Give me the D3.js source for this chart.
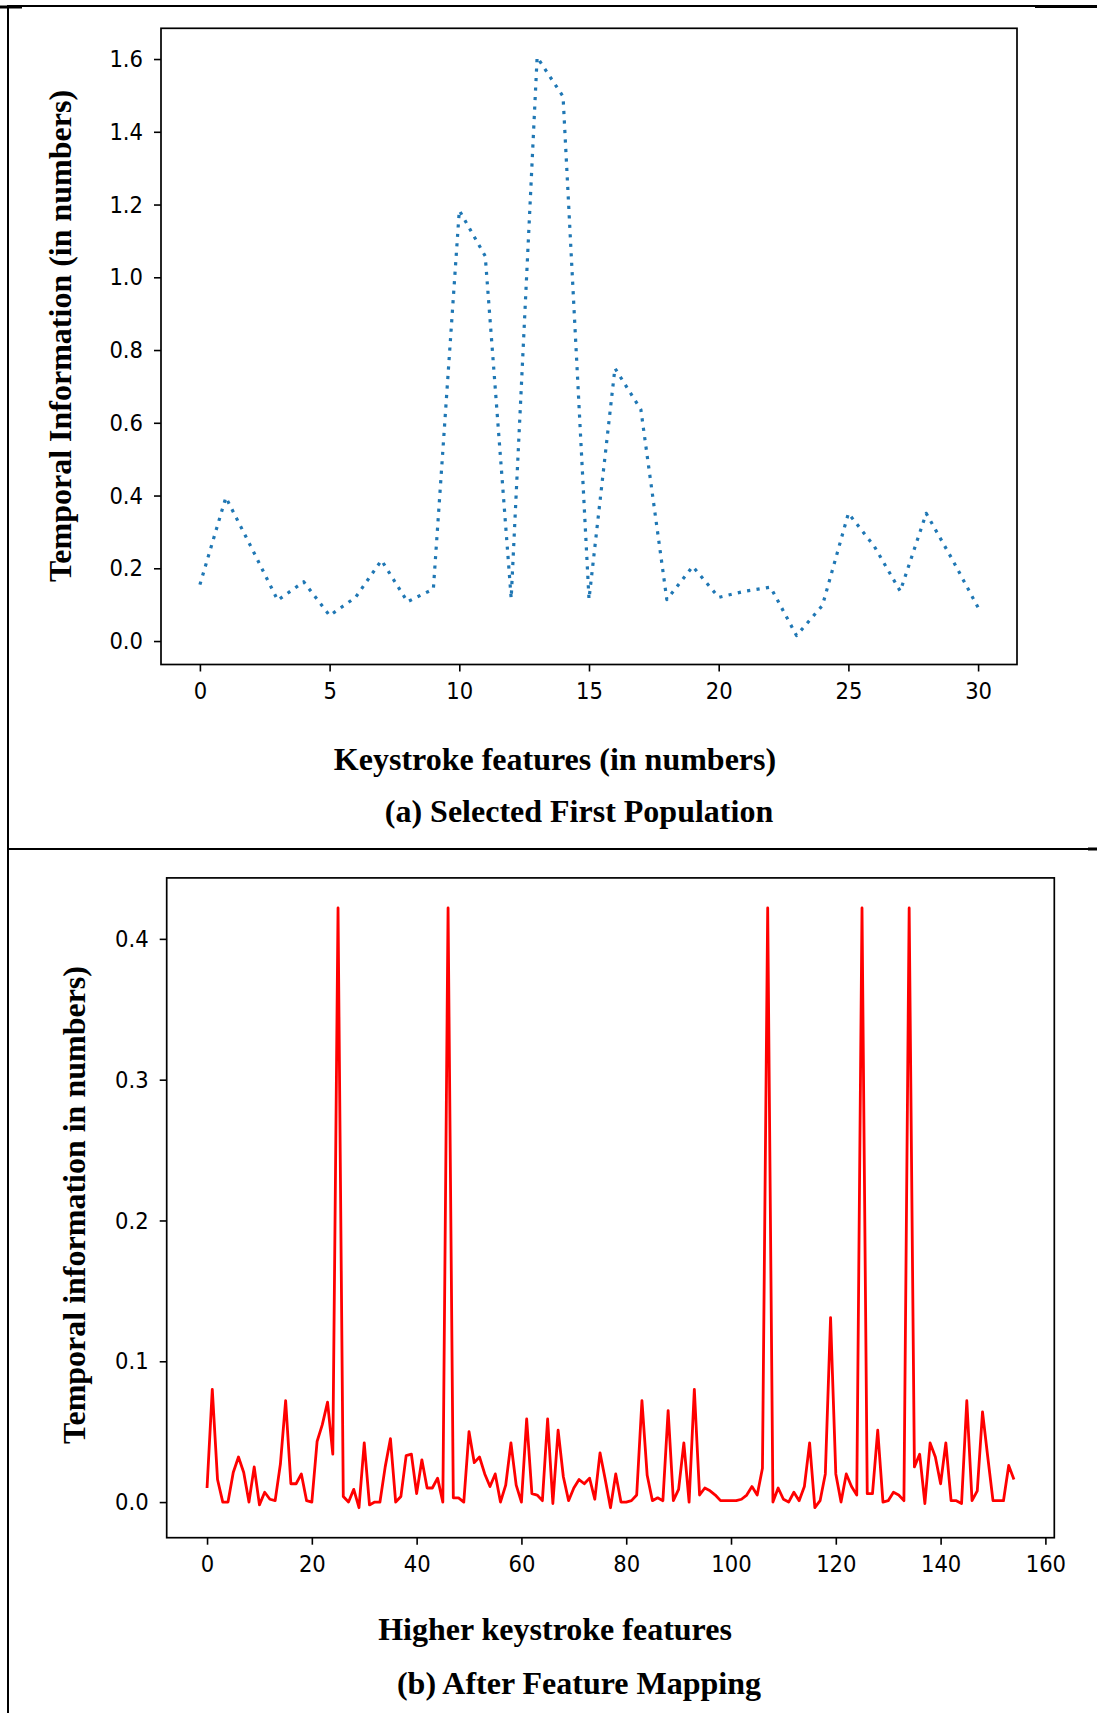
<!DOCTYPE html>
<html>
<head>
<meta charset="utf-8">
<script src="https://cdn.jsdelivr.net/npm/d3@7"></script>
<style>
    body { margin: 0; background: #fff; }
    svg { display: block; }
    .tick text { font-family: "DejaVu Sans Condensed", "DejaVu Sans", sans-serif; font-size: 23.5px; fill: #000; }
    .tick line { stroke: #000; stroke-width: 1.6; }
    .title { font-family: "Liberation Serif", "Times New Roman", serif; font-weight: bold; font-size: 32px; fill: #000; }
    .frame { fill: none; stroke: #000; stroke-width: 1.7; }
    .rule { stroke: #000; }
</style>
</head>
<body>
<script>
// (a) selected first population, one value per keystroke feature
const firstPopValues = [0.155, 0.395, 0.255, 0.112, 0.163, 0.07, 0.12, 0.222, 0.108, 0.143,
    1.184, 1.058, 0.117, 1.605, 1.497, 0.115, 0.750, 0.636, 0.114, 0.205,
    0.12, 0.137, 0.148, 0.015, 0.098, 0.351, 0.26, 0.137, 0.351, 0.225, 0.092];
const firstPopXTicks = [0, 5, 10, 15, 20, 25, 30];
const firstPopYTicks = [0.0, 0.2, 0.4, 0.6, 0.8, 1.0, 1.2, 1.4, 1.6];

// (b) after feature mapping, higher keystroke features
const mappedValues = [0.010, 0.080, 0.016, 0.000, 0.000, 0.021, 0.032, 0.021, 0.000, 0.025,
    -0.002, 0.007, 0.002, 0.001, 0.027, 0.072, 0.013, 0.013, 0.020, 0.001,
    0.000, 0.043, 0.055, 0.071, 0.034, 0.422, 0.004, 0.000, 0.009, -0.004,
    0.042, -0.002, 0.000, 0.000, 0.025, 0.045, 0.000, 0.004, 0.033, 0.034,
    0.006, 0.030, 0.010, 0.010, 0.017, 0.000, 0.422, 0.003, 0.003, 0.000,
    0.050, 0.028, 0.032, 0.020, 0.011, 0.020, 0.000, 0.012, 0.042, 0.012,
    0.000, 0.059, 0.006, 0.005, 0.001, 0.059, -0.001, 0.051, 0.018, 0.001,
    0.010, 0.016, 0.013, 0.017, 0.002, 0.035, 0.016, -0.004, 0.020, 0.000,
    0.000, 0.001, 0.005, 0.072, 0.019, 0.001, 0.003, 0.001, 0.065, 0.001,
    0.009, 0.042, 0.000, 0.080, 0.005, 0.010, 0.008, 0.005, 0.001, 0.001,
    0.001, 0.001, 0.002, 0.005, 0.011, 0.005, 0.024, 0.422, 0.000, 0.010,
    0.002, 0.000, 0.007, 0.001, 0.011, 0.042, -0.004, 0.001, 0.020, 0.131,
    0.020, 0.000, 0.020, 0.011, 0.005, 0.422, 0.006, 0.006, 0.051, 0.000,
    0.001, 0.007, 0.005, 0.001, 0.422, 0.025, 0.034, -0.001, 0.042, 0.032,
    0.013, 0.042, 0.001, 0.001, -0.001, 0.072, 0.001, 0.008, 0.064, 0.032,
    0.001, 0.001, 0.001, 0.026, 0.016];
const mappedXTicks = [0, 20, 40, 60, 80, 100, 120, 140, 160];
const mappedYTicks = [0.0, 0.1, 0.2, 0.3, 0.4];

const W = 1097, H = 1713;

const svg = d3.select("body").append("svg")
    .attr("width", W)
    .attr("height", H);

svg.append("rect").attr("width", W).attr("height", H).attr("fill", "#fff");

// padded extent, the way matplotlib leaves 5% either side
function padded(ext) {
    let m = (ext[1] - ext[0]) * 0.05;
    return [ext[0] - m, ext[1] + m];
}

class Panel {
    constructor(parent, box, opts) {
        this.box = box;
        this.opts = opts;
        this.g = parent.append("g");

        let xs = opts.values.map((d, i) => i);
        this.x = d3.scaleLinear().domain(padded(d3.extent(xs))).range([box.left, box.right]);
        this.y = d3.scaleLinear().domain(padded(d3.extent(opts.values))).range([box.bottom, box.top]);
    }

    draw() {
        let obj = this;
        let b = this.box;

        let line = d3.line()
            .x((d, i) => obj.x(i))
            .y(d => obj.y(d));

        let path = this.g.append("path")
            .datum(this.opts.values)
            .attr("d", line)
            .attr("fill", "none")
            .attr("stroke", this.opts.color)
            .attr("stroke-width", this.opts.width)
            .attr("stroke-linejoin", "round");
        if (this.opts.dash) path.attr("stroke-dasharray", this.opts.dash);

        this.g.append("g")
            .attr("transform", "translate(0," + b.bottom + ")")
            .call(d3.axisBottom(this.x).tickValues(this.opts.xTicks).tickFormat(d3.format("d"))
                .tickSizeInner(7).tickSizeOuter(0).tickPadding(11))
            .call(g => g.select(".domain").remove());

        this.g.append("g")
            .attr("transform", "translate(" + b.left + ",0)")
            .call(d3.axisLeft(this.y).tickValues(this.opts.yTicks).tickFormat(d3.format(".1f"))
                .tickSizeInner(7).tickSizeOuter(0).tickPadding(11))
            .call(g => g.select(".domain").remove());

        this.g.selectAll(".tick text").attr("font-family", null).attr("font-size", null);

        this.g.append("rect")
            .attr("class", "frame")
            .attr("x", b.left).attr("y", b.top)
            .attr("width", b.right - b.left)
            .attr("height", b.bottom - b.top);

        this.g.append("text")
            .attr("class", "title")
            .attr("transform", "translate(" + this.opts.yLabelX + "," + this.opts.yLabelY + ") rotate(-90)")
            .attr("text-anchor", "middle")
            .text(this.opts.yLabel);

        this.g.append("text")
            .attr("class", "title")
            .attr("x", 555).attr("y", this.opts.xLabelY)
            .attr("text-anchor", "middle")
            .text(this.opts.xLabel);

        this.g.append("text")
            .attr("class", "title")
            .attr("x", 579).attr("y", this.opts.captionY)
            .attr("text-anchor", "middle")
            .text(this.opts.caption);
    }
}

new Panel(svg, {left: 161, right: 1017, top: 28.3, bottom: 664.5}, {
    values: firstPopValues,
    xTicks: firstPopXTicks,
    yTicks: firstPopYTicks,
    color: "#1f77b4",
    width: 3.2,
    dash: "3.2,6.3",
    yLabel: "Temporal Information (in numbers)",
    yLabelX: 71, yLabelY: 336,
    xLabel: "Keystroke features (in numbers)",
    xLabelY: 770,
    caption: "(a) Selected First Population",
    captionY: 822
}).draw();

new Panel(svg, {left: 166.7, right: 1054.3, top: 877.9, bottom: 1537.7}, {
    values: mappedValues,
    xTicks: mappedXTicks,
    yTicks: mappedYTicks,
    color: "#ff0000",
    width: 2.8,
    yLabel: "Temporal information in numbers)",
    yLabelX: 85, yLabelY: 1205,
    xLabel: "Higher keystroke features",
    xLabelY: 1640,
    caption: "(b) After Feature Mapping",
    captionY: 1694
}).draw();

// table rules around the two panels
let rules = svg.append("g").attr("class", "rules");
rules.append("line").attr("class", "rule").attr("x1", 0).attr("x2", 22).attr("y1", 7).attr("y2", 7).attr("stroke-width", 3);
rules.append("line").attr("class", "rule").attr("x1", 8).attr("x2", 1035).attr("y1", 6).attr("y2", 6).attr("stroke-width", 2);
rules.append("line").attr("class", "rule").attr("x1", 1035).attr("x2", W).attr("y1", 6.5).attr("y2", 6.5).attr("stroke-width", 3);
rules.append("line").attr("class", "rule").attr("x1", 8).attr("x2", 8).attr("y1", 5).attr("y2", H).attr("stroke-width", 2);
rules.append("line").attr("class", "rule").attr("x1", 8).attr("x2", W).attr("y1", 849).attr("y2", 849).attr("stroke-width", 2);
rules.append("line").attr("class", "rule").attr("x1", 1088).attr("x2", W).attr("y1", 849).attr("y2", 849).attr("stroke-width", 3);
</script>
</body>
</html>
